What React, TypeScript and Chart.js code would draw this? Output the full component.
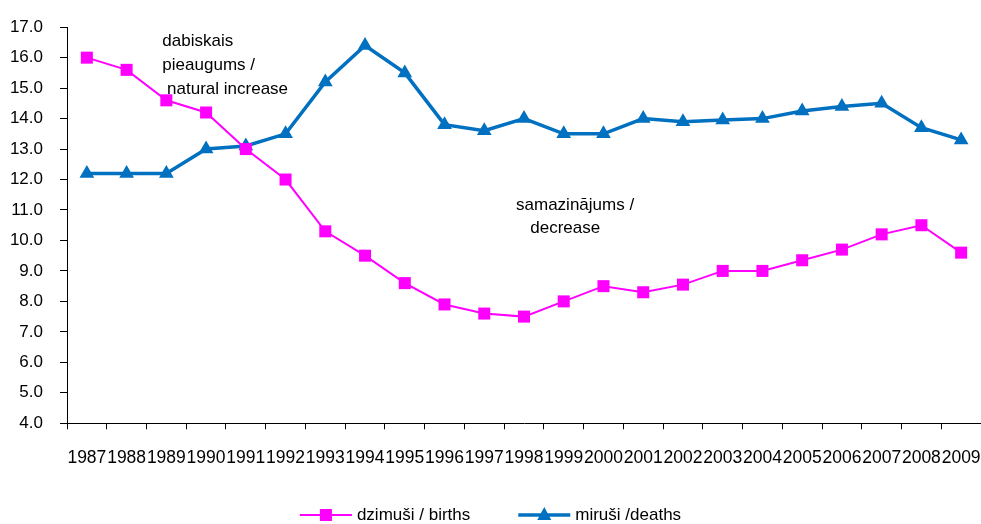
import React, { useEffect, useRef } from "react";
import { Chart, registerables } from "chart.js";

Chart.register(...registerables);

const years = [
  "1987", "1988", "1989", "1990", "1991", "1992", "1993", "1994", "1995", "1996", "1997", "1998",
  "1999", "2000", "2001", "2002", "2003", "2004", "2005", "2006", "2007", "2008", "2009",
];
const births = [
  16.0, 15.6, 14.6, 14.2, 13.0, 12.0, 10.3, 9.5, 8.6, 7.9, 7.6, 7.5,
  8.0, 8.5, 8.3, 8.55, 9.0, 9.0, 9.35, 9.7, 10.2, 10.5, 9.6,
];
const deaths = [
  12.2, 12.2, 12.2, 13.0, 13.1, 13.5, 15.2, 16.4, 15.5, 13.8, 13.6, 14.0,
  13.5, 13.5, 14.0, 13.9, 13.95, 14.0, 14.25, 14.4, 14.5, 13.7, 13.3,
];
const birthsLabel = "dzimuši / births";
const deathsLabel = "miruši /deaths";
const increaseText = ["dabiskais", "pieaugums /", " natural increase"];
const decreaseText = ["samazinājums /", "   decrease"];

const FONT = "'Liberation Sans', Arial, sans-serif";
const MAGENTA = "#FF00FF";
const BLUE = "#0070C0";

const overlayPlugin = {
  id: "overlay",
  afterDraw(chart: any) {
    const { ctx, scales } = chart;
    const x = scales.x;
    const y = scales.y;
    ctx.save();
    ctx.fillStyle = "#000";
    ctx.font = `17px ${FONT}`;
    ctx.textBaseline = "middle";
    ctx.textAlign = "left";
    // annotations
    const ax = x.getPixelForValue(1.9);
    const ay = y.getPixelForValue(16.55);
    increaseText.forEach((t, i) => ctx.fillText(t, ax, ay + i * 24));
    const bx = x.getPixelForValue(10.8);
    const by = y.getPixelForValue(11.15);
    decreaseText.forEach((t, i) => ctx.fillText(t, bx, by + i * 23));

    // legend
    const items = [
      { label: birthsLabel, color: MAGENTA, width: 2, style: "rect" },
      { label: deathsLabel, color: BLUE, width: 3.5, style: "triangle" },
    ];
    const lineLen = 52;
    const gapText = 5;
    const gapItems = 48;
    const widths = items.map((it) => ctx.measureText(it.label).width);
    const total = widths.reduce((a, w) => a + lineLen + gapText + w, 0) + gapItems;
    let cx = chart.width / 2 - total / 2;
    const ly = 515;
    items.forEach((it, i) => {
      ctx.strokeStyle = it.color;
      ctx.lineWidth = it.width;
      ctx.beginPath();
      ctx.moveTo(cx, ly);
      ctx.lineTo(cx + lineLen, ly);
      ctx.stroke();
      ctx.fillStyle = it.color;
      const mx = cx + lineLen / 2;
      if (it.style === "rect") {
        ctx.fillRect(mx - 6, ly - 6, 12, 12);
      } else {
        ctx.beginPath();
        ctx.moveTo(mx, ly - 8);
        ctx.lineTo(mx + 7, ly + 5);
        ctx.lineTo(mx - 7, ly + 5);
        ctx.closePath();
        ctx.fill();
      }
      ctx.fillStyle = "#000";
      ctx.fillText(it.label, cx + lineLen + gapText, ly);
      cx += lineLen + gapText + widths[i] + gapItems;
    });
    ctx.restore();
  },
};

export default function App() {
  const ref = useRef<HTMLCanvasElement | null>(null);
  useEffect(() => {
    if (!ref.current) return;
    const chart = new Chart(ref.current, {
      type: "line",
      data: {
        labels: years,
        datasets: [
          {
            label: birthsLabel,
            data: births,
            borderColor: MAGENTA,
            backgroundColor: MAGENTA,
            borderWidth: 2,
            pointStyle: "rect",
            pointRadius: 8.5,
            pointBorderWidth: 0,
            tension: 0,
            clip: false,
          },
          {
            label: deathsLabel,
            data: deaths,
            borderColor: BLUE,
            backgroundColor: BLUE,
            borderWidth: 3.5,
            pointStyle: "triangle",
            pointRadius: 8.5,
            pointBorderWidth: 0,
            tension: 0,
            clip: false,
          },
        ],
      },
      options: {
        animation: false,
        responsive: true,
        maintainAspectRatio: false,
        layout: { autoPadding: false, padding: { top: 22, left: 10, right: 0, bottom: 37 } },
        plugins: { legend: { display: false }, tooltip: { enabled: false } },
        scales: {
          x: {
            type: "category",
            offset: true,
            afterFit: (s: any) => {
              s.paddingLeft = 0;
              s.paddingRight = 0;
            },
            grid: {
              offset: true,
              drawOnChartArea: false,
              drawTicks: true,
              tickLength: 6,
              color: "#000",
            },
            border: { display: true, color: "#000", width: 1 },
            ticks: {
              autoSkip: false,
              maxRotation: 0,
              minRotation: 0,
              color: "#000",
              padding: 0,
              font: { family: FONT, size: 17.5, lineHeight: 3.3 },
            },
          },
          y: {
            min: 4,
            max: 17,
            afterFit: (s: any) => {
              s.width = 57;
            },
            grid: {
              drawOnChartArea: false,
              drawTicks: true,
              tickLength: 7,
              color: "#000",
            },
            border: { display: true, color: "#000", width: 1 },
            ticks: {
              stepSize: 1,
              color: "#000",
              padding: 17,
              font: { family: FONT, size: 17 },
              callback: (v: any) => Number(v).toFixed(1),
            },
          },
        },
      },
      plugins: [overlayPlugin],
    });
    return () => chart.destroy();
  }, []);
  return (
    <div style={{ position: "fixed", top: 0, left: 0, width: 981, height: 524, background: "#fff" }}>
      <canvas ref={ref} />
    </div>
  );
}
